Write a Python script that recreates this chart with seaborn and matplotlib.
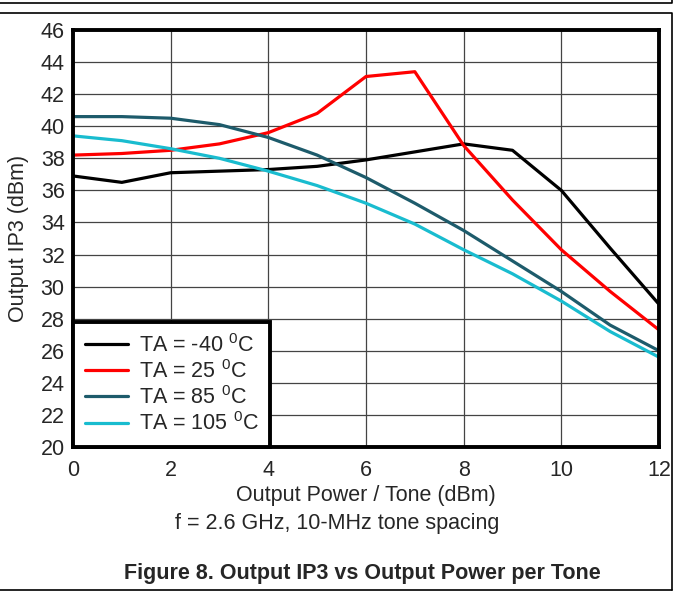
import numpy as np
import pandas as pd
import seaborn as sns
import matplotlib.pyplot as plt
from matplotlib.lines import Line2D

# data
power = [0, 1, 2, 3, 4, 5, 6, 7, 8, 9, 10, 11, 12]
ip3_m40 = [36.9, 36.5, 37.1, 37.2, 37.3, 37.5, 37.9, 38.4, 38.9, 38.5, 36.0, 32.4, 28.9]
ip3_25 = [38.2, 38.3, 38.5, 38.9, 39.6, 40.8, 43.1, 43.4, 38.8, 35.4, 32.3, 29.7, 27.3]
ip3_85 = [40.6, 40.6, 40.5, 40.1, 39.3, 38.2, 36.8, 35.2, 33.5, 31.6, 29.7, 27.6, 26.0]
ip3_105 = [39.4, 39.1, 38.6, 38.0, 37.2, 36.3, 35.2, 33.9, 32.3, 30.8, 29.1, 27.2, 25.6]
labels = ['TA = -40 $^{0}$C', 'TA = 25 $^{0}$C', 'TA = 85 $^{0}$C', 'TA = 105 $^{0}$C']
colors = ['black', '#ff0000', '#1d5b6b', '#19bccf']

df = pd.DataFrame({
    'power': power * 4,
    'ip3': ip3_m40 + ip3_25 + ip3_85 + ip3_105,
    'temp': np.repeat(labels, len(power)),
})

sns.set_style('white')
plt.rcParams['font.family'] = ['Liberation Sans', 'DejaVu Sans']
plt.rcParams['mathtext.fontset'] = 'custom'
plt.rcParams['mathtext.rm'] = 'Liberation Sans'

fig = plt.figure(figsize=(6.77, 5.93), dpi=100)
ax = fig.add_axes([0.1078, 0.2462, 0.8656, 0.7032])

sns.lineplot(data=df, x='power', y='ip3', hue='temp', hue_order=labels,
             palette=colors, linewidth=2.3, ax=ax)

ax.set_xlim(0, 12)
ax.set_ylim(20, 46)
ax.set_xticks(range(0, 13, 2))
ax.set_yticks(range(20, 47, 2))
ax.grid(True, color='#444444', linewidth=0.9)
ax.tick_params(axis='x', labelsize=15.5, length=0, pad=9)
ax.tick_params(axis='y', labelsize=15.5, length=0, pad=6)
for s in ax.spines.values():
    s.set_linewidth(2.8)
    s.set_color('black')
    s.set_visible(True)

ax.set_xlabel('Output Power / Tone (dBm)', fontsize=15.5, labelpad=3)
ax.set_ylabel('Output IP3 (dBm)', fontsize=15.5, labelpad=8)

leg = ax.legend(loc='lower left', fontsize=15.5, frameon=True, fancybox=False,
                borderaxespad=0, handlelength=2.0, handletextpad=0.5,
                labelspacing=0.15, borderpad=0.55, framealpha=1)
leg.get_frame().set_edgecolor('black')
leg.get_frame().set_linewidth(2.8)

fig.text(337 / 677, 1 - 523 / 593, 'f = 2.6 GHz, 10-MHz tone spacing', ha='center', va='center', fontsize=15.5)
fig.text(362 / 677, 1 - 573 / 593, 'Figure 8. Output IP3 vs Output Power per Tone', ha='center', va='center',
         fontsize=15.5, fontweight='bold')

# page frame lines
ly = 1 - 3 / 593
fig.add_artist(Line2D([0, 672 / 677, 672 / 677], [ly, ly, 1], color='black', lw=1.2))
ty = 1 - 13 / 593
by = 1 - 590 / 593
fig.add_artist(Line2D([0, 672 / 677, 672 / 677], [ty, ty, by], color='black', lw=1.2))
fig.add_artist(Line2D([0, 672 / 677], [by, by], color='black', lw=1.2))

fig.savefig('out.png', dpi=100)
